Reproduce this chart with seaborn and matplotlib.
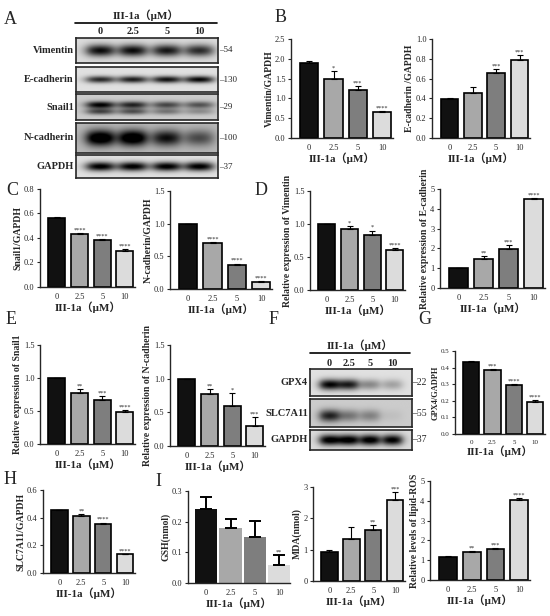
import numpy as np
import pandas as pd
import seaborn as sns
import matplotlib.pyplot as plt

# figure size in pixels
W, H = 550, 616

doses = ['0', '2.5', '5', '10']
bar_colors = ['#111111', '#a8a8a8', '#7e7e7e', '#dcdcdc']
xlab = 'III-1a（μM）'

# ---- bar chart data ----
vim_gapdh = [1.90, 1.48, 1.20, 0.66]
vim_gapdh_err = [0.04, 0.20, 0.12, 0.03]
vim_gapdh_sig = ['', '*', '***', '****']

ecad_gapdh = [0.39, 0.45, 0.66, 0.79]
ecad_gapdh_err = [0.015, 0.065, 0.04, 0.05]
ecad_gapdh_sig = ['', '', '***', '***']

snail_gapdh = [0.565, 0.43, 0.38, 0.29]
snail_gapdh_err = [0.006, 0.01, 0.012, 0.02]
snail_gapdh_sig = ['', '****', '****', '****']

ncad_gapdh = [0.99, 0.71, 0.37, 0.11]
ncad_gapdh_err = [0.01, 0.01, 0.02, 0.01]
ncad_gapdh_sig = ['', '****', '****', '****']

vim_rel = [1.0, 0.92, 0.83, 0.61]
vim_rel_err = [0.0, 0.045, 0.07, 0.03]
vim_rel_sig = ['', '*', '*', '****']

ecad_rel = [1.0, 1.47, 1.98, 4.50]
ecad_rel_err = [0.0, 0.13, 0.17, 0.04]
ecad_rel_sig = ['', '**', '***', '****']

snail_rel = [1.0, 0.78, 0.66, 0.49]
snail_rel_err = [0.0, 0.05, 0.06, 0.02]
snail_rel_sig = ['', '**', '***', '****']

ncad_rel = [1.0, 0.77, 0.60, 0.30]
ncad_rel_err = [0.0, 0.08, 0.19, 0.13]
ncad_rel_sig = ['', '**', '*', '***']

gpx4_gapdh = [0.435, 0.385, 0.295, 0.19]
gpx4_gapdh_err = [0.005, 0.006, 0.007, 0.012]
gpx4_gapdh_sig = ['', '***', '****', '****']

slc_gapdh = [0.455, 0.415, 0.355, 0.135]
slc_gapdh_err = [0.003, 0.013, 0.01, 0.005]
slc_gapdh_sig = ['', '**', '****', '****']

gsh = [0.24, 0.18, 0.15, 0.06]
gsh_err = [0.04, 0.03, 0.053, 0.03]
gsh_sig = ['', '', '', '**']

mda = [0.92, 1.33, 1.63, 2.57]
mda_err = [0.08, 0.38, 0.15, 0.28]
mda_sig = ['', '', '**', '***']

ros = [1.14, 1.42, 1.58, 4.05]
ros_err = [0.06, 0.04, 0.04, 0.10]
ros_sig = ['', '**', '***', '****']

# ---- western blot band darkness per lane ----
blot_a_rows = ['Vimentin', 'E-cadherin', 'Snail1', 'N-cadherin', 'GAPDH']
blot_a_mw = ['54', '130', '29', '100', '37']
vim_band = [0.85, 0.85, 0.8, 0.72]
ecad_band = [0.75, 0.8, 0.85, 0.9]
snail_upper = [0.55, 0.5, 0.35, 0.25]
snail_lower = [0.85, 0.7, 0.55, 0.5]
ncad_band = [0.95, 0.95, 0.7, 0.45]
gapdh_a_band = [0.95, 0.95, 0.95, 0.95]

blot_f_rows = ['GPX4', 'SLC7A11', 'GAPDH']
blot_f_mw = ['22', '55', '37']
gpx4_band = [0.9, 0.8, 0.35, 0.25]
slc_band = [0.7, 0.35, 0.3, 0.05]
gapdh_f_band = [0.95, 0.95, 0.95, 0.92]

sns.set_style('ticks')
plt.rcParams['font.family'] = ['Liberation Serif', 'Noto Sans CJK SC']
plt.rcParams['axes.linewidth'] = 1.0

fig = plt.figure(figsize=(W / 100, H / 100), dpi=100)


def px(x0, y0, x1, y1):
    return [x0 / W, 1 - y1 / H, (x1 - x0) / W, (y1 - y0) / H]


def bar_panel(box, vals, errs, sig, ylabel, yticks, fmt, edge=True, width=0.75,
              tsize=6, ysize=7):
    ax = fig.add_axes(px(*box))
    df = pd.DataFrame({'dose': doses, 'value': vals})
    sns.barplot(data=df, x='dose', y='value', hue='dose', palette=bar_colors,
                legend=False, width=width, errorbar=None, ax=ax,
                edgecolor='black' if edge else 'none', linewidth=1.2 if edge else 0)
    lw = 0.8 if edge else 1.4
    ax.errorbar(range(4), vals, yerr=[np.zeros(4), errs], fmt='none',
                ecolor='black', elinewidth=lw, capsize=2.5 if edge else 4, capthick=lw)
    top = yticks[-1]
    for i in range(4):
        if sig[i]:
            ax.text(i, vals[i] + errs[i] + 0.005 * top, sig[i], ha='center',
                    va='bottom', fontsize=4.5)
    ax.set_ylim(0, top)
    ax.set_xlim(-0.75, 3.45)
    ax.set_yticks(yticks)
    ax.set_yticklabels([fmt.format(t) for t in yticks])
    ax.tick_params(axis='both', labelsize=tsize, length=2.5, width=0.8, pad=1.5)
    ax.tick_params(axis='x', length=0, pad=4)
    ax.set_ylabel(ylabel, fontsize=ysize, fontweight='bold', labelpad=1)
    ax.set_xlabel(xlab, fontsize=8, fontweight='bold', labelpad=1)
    sns.despine(ax=ax)
    return ax


def blot(box, lanes, layers, bg=0.86):
    ax = fig.add_axes(px(*box))
    X, Y = np.meshgrid(np.linspace(0, 1, 300), np.linspace(0, 1, 60))
    img = np.full_like(X, bg)
    for yc, hh, darks in layers:
        for xc, d in zip(lanes, darks):
            lane = 1 / (1 + np.exp((np.abs(X - xc) - 0.09) / 0.025))
            band = np.exp(-((Y - yc) / hh) ** 2)
            img = img - d * lane * band
    ax.imshow(np.clip(img, 0, 1), cmap='gray', vmin=0, vmax=1, aspect='auto',
              extent=(0, 1, 0, 1), interpolation='bilinear')
    ax.set_xticks([])
    ax.set_yticks([])
    for s in ax.spines.values():
        s.set_linewidth(1.2)
    return ax


def fig_text(x, y, s, **kw):
    fig.text(x / W, 1 - y / H, s, **kw)


# ---------------- panel A: blot ----------------
lanes_a = [0.17, 0.40, 0.64, 0.87]
a_boxes = [(76, 38, 218, 63), (76, 67, 218, 92), (76, 94, 218, 120),
           (76, 123, 218, 153), (76, 155, 218, 178)]
a_layers = [
    [(0.5, 0.24, vim_band)],
    [(0.5, 0.14, ecad_band)],
    [(0.68, 0.12, snail_upper), (0.42, 0.14, snail_lower)],
    [(0.5, 0.27, ncad_band)],
    [(0.5, 0.2, gapdh_a_band)],
]
a_bg = [0.86, 0.88, 0.8, 0.72, 0.88]
for box, layers, bg, name, mw in zip(a_boxes, a_layers, a_bg, blot_a_rows, blot_a_mw):
    blot(box, lanes_a, layers, bg=bg)
    yc = (box[1] + box[3]) / 2
    fig_text(74, yc, name, ha='right', va='center', fontsize=7.5, fontweight='bold')
    fig_text(219, yc, '–' + mw, ha='left', va='center', fontsize=6.5)

fig_text(146, 15, 'III-1a（μM）', ha='center', va='center', fontsize=8, fontweight='bold')
fig.add_artist(plt.Line2D([75 / W, 217 / W], [1 - 23 / H, 1 - 23 / H], color='black', lw=1.2))
for lx, d in zip(lanes_a, doses):
    fig_text(76 + lx * 142, 32, d, ha='center', va='center', fontsize=7.5, fontweight='bold')

# ---------------- panel F: blot ----------------
lanes_f = [0.19, 0.38, 0.59, 0.81]
f_boxes = [(310, 369, 412, 396), (310, 399, 412, 427), (310, 430, 412, 450)]
f_layers = [
    [(0.58, 0.2, gpx4_band)],
    [(0.6, 0.22, slc_band)],
    [(0.5, 0.27, gapdh_f_band)],
]
f_bg = [0.88, 0.8, 0.86]
for box, layers, bg, name, mw in zip(f_boxes, f_layers, f_bg, blot_f_rows, blot_f_mw):
    blot(box, lanes_f, layers, bg=bg)
    yc = (box[1] + box[3]) / 2
    fig_text(308, yc, name, ha='right', va='center', fontsize=7.5, fontweight='bold')
    fig_text(412, yc, '–' + mw, ha='left', va='center', fontsize=7)

fig_text(360, 345, 'III-1a（μM）', ha='center', va='center', fontsize=8, fontweight='bold')
fig.add_artist(plt.Line2D([310 / W, 410 / W], [1 - 353 / H, 1 - 353 / H], color='black', lw=1.2))
for lx, d in zip(lanes_f, doses):
    fig_text(310 + lx * 102, 364, d, ha='center', va='center', fontsize=7.5, fontweight='bold')

# ---------------- bar panels ----------------
bar_panel((291, 39, 393, 138), vim_gapdh, vim_gapdh_err, vim_gapdh_sig,
          'Vimentin/GAPDH', [0, 0.5, 1.0, 1.5, 2.0, 2.5], '{:.1f}')
bar_panel((432, 39, 530, 138), ecad_gapdh, ecad_gapdh_err, ecad_gapdh_sig,
          'E-cadherin /GAPDH', [0, 0.2, 0.4, 0.6, 0.8, 1.0], '{:.1f}')
bar_panel((40, 189, 135, 287), snail_gapdh, snail_gapdh_err, snail_gapdh_sig,
          'Snail1/GAPDH', [0, 0.2, 0.4, 0.6, 0.8], '{:.1f}')
bar_panel((170, 191, 272, 289), ncad_gapdh, ncad_gapdh_err, ncad_gapdh_sig,
          'N-cadherin/GAPDH', [0, 0.5, 1.0, 1.5], '{:.1f}')
bar_panel((310, 191, 405, 290), vim_rel, vim_rel_err, vim_rel_sig,
          'Relative expression of Vimentin', [0, 0.5, 1.0, 1.5], '{:.1f}')
bar_panel((440, 189, 545, 288), ecad_rel, ecad_rel_err, ecad_rel_sig,
          'Relative expression of E-cadherin', [0, 1, 2, 3, 4, 5], '{:d}')
bar_panel((40, 345, 135, 444), snail_rel, snail_rel_err, snail_rel_sig,
          'Relative expression of Snail1', [0, 0.5, 1.0, 1.5], '{:.1f}')
bar_panel((170, 345, 265, 446), ncad_rel, ncad_rel_err, ncad_rel_sig,
          'Relative expression of N-cadherin', [0, 0.5, 1.0, 1.5], '{:.1f}')
bar_panel((455, 351, 545, 434), gpx4_gapdh, gpx4_gapdh_err, gpx4_gapdh_sig,
          'GPX4/GADPH', [0, 0.1, 0.2, 0.3, 0.4, 0.5], '{:.1f}', tsize=5, ysize=6)
bar_panel((43, 490, 135, 573), slc_gapdh, slc_gapdh_err, slc_gapdh_sig,
          'SLC7A11/GAPDH', [0, 0.2, 0.4, 0.6], '{:.1f}')
bar_panel((188, 491, 290, 583), gsh, gsh_err, gsh_sig,
          'GSH(nmol)', [0, 0.1, 0.2, 0.3], '{:.1f}', edge=False, width=0.92)
bar_panel((313, 487, 405, 581), mda, mda_err, mda_sig,
          'MDA(nmol)', [0, 1, 2, 3], '{:d}')
bar_panel((430, 481, 530, 580), ros, ros_err, ros_sig,
          'Relative levels of lipid-ROS', [0, 1, 2, 3, 4, 5], '{:d}')

# ---------------- panel letters ----------------
for s, x, y in [('A', 10, 19), ('B', 281, 18), ('C', 12, 190), ('D', 261, 190),
                ('E', 11, 320), ('F', 274, 319), ('G', 425, 320), ('H', 10, 480),
                ('I', 158, 482)]:
    fig_text(x, y, s, ha='center', va='center', fontsize=13)

fig.savefig('out.png', dpi=100)
